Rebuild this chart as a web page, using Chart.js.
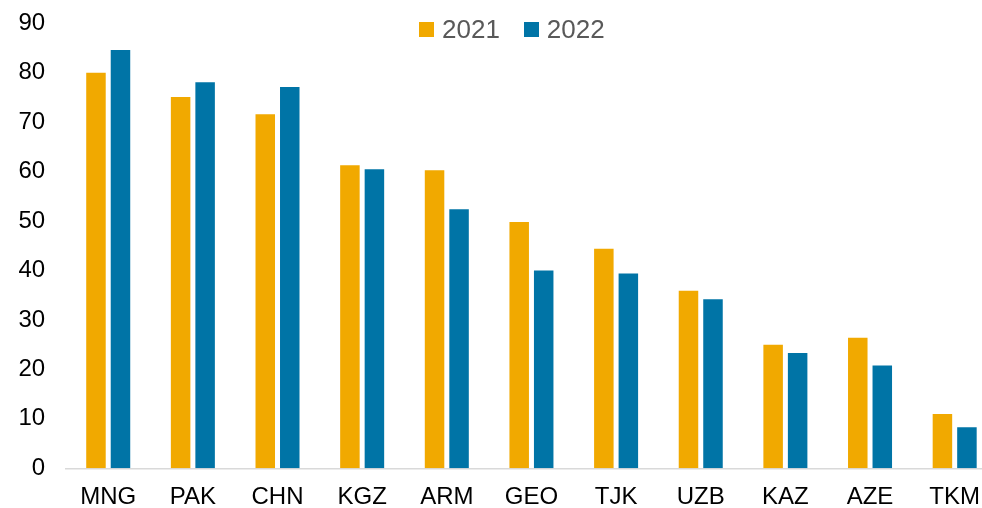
<!DOCTYPE html>
<html>
<head>
<meta charset="utf-8">
<script src="https://cdn.jsdelivr.net/npm/chart.js@4/dist/chart.umd.min.js"></script>
<style>
  html, body { margin: 0; padding: 0; background: #fff; overflow: hidden; }
  #wrap { position: relative; width: 982px; height: 508px; overflow: hidden; }
  #canvas { position: absolute; left: 0; top: 0; }
  #legend { position: absolute; left: 419px; top: 14px; display: flex; align-items: center;
            font: 26px "Liberation Sans", Arial, sans-serif; line-height: 30px; color: #595959; }
  #legend .item { display: flex; align-items: center; margin-right: 24px; }
  #legend .box { display: inline-block; width: 15px; height: 15px; margin-right: 8px; }
</style>
</head>
<body>
<div id="wrap">
  <canvas id="canvas" width="1000" height="512"></canvas>
  <div id="legend"></div>
</div>
<script>
var countries = ['MNG', 'PAK', 'CHN', 'KGZ', 'ARM', 'GEO', 'TJK', 'UZB', 'KAZ', 'AZE', 'TKM'];
var seriesNames = ['2021', '2022'];
var values2021 = [80.0, 75.1, 71.6, 61.3, 60.3, 49.8, 44.4, 35.9, 25.0, 26.4, 11.0];
var values2022 = [84.6, 78.1, 77.1, 60.5, 52.4, 40.0, 39.4, 34.2, 23.3, 20.8, 8.3];
var yMin = 0, yMax = 90, yStep = 10;

var colors = ['#f1a900', '#0074a6'];
var fontFamily = '"Liberation Sans", Arial, sans-serif';

function buildLegend() {
  var legend = document.getElementById('legend');
  seriesNames.forEach(function(name, i) {
    var item = document.createElement('span');
    item.className = 'item';
    var box = document.createElement('span');
    box.className = 'box';
    box.style.background = colors[i];
    item.appendChild(box);
    item.appendChild(document.createTextNode(name));
    legend.appendChild(item);
  });
}

function printChart() {
  Chart.defaults.font.family = fontFamily;
  var ctx = document.getElementById('canvas').getContext('2d');
  new Chart(ctx, {
    type: 'bar',
    data: {
      labels: countries,
      datasets: [{
        label: seriesNames[0],
        data: values2021,
        backgroundColor: colors[0],
        borderWidth: 0,
        barPercentage: 0.796,
        categoryPercentage: 0.579
      }, {
        label: seriesNames[1],
        data: values2022,
        backgroundColor: colors[1],
        borderWidth: 0,
        barPercentage: 0.796,
        categoryPercentage: 0.579
      }]
    },
    options: {
      responsive: false,
      animation: false,
      layout: { padding: { top: 0, left: 18.5, right: 3, bottom: 0 } },
      plugins: {
        legend: { display: false },
        tooltip: { enabled: false }
      },
      scales: {
        x: {
          grid: { display: false, drawTicks: false },
          border: { display: true, color: '#d9d9d9', width: 1.5 },
          ticks: { color: '#000', font: { size: 24 }, padding: 15, maxRotation: 0, autoSkip: false },
          afterFit: function(scale) {
            scale.height = 43.7;
          }
        },
        y: {
          min: yMin,
          max: yMax,
          grid: { display: false, drawTicks: false },
          border: { display: false },
          ticks: { stepSize: yStep, color: '#000', font: { size: 24 }, padding: 20.7 },
          afterFit: function(scale) {
            // chart.js doubles the tick padding, keep the reference spacing
            scale.width = 47.4;
            scale.paddingTop = 23.3;
            scale.paddingBottom = 0;
          }
        }
      }
    }
  });
}

buildLegend();
printChart();
</script>
</body>
</html>
